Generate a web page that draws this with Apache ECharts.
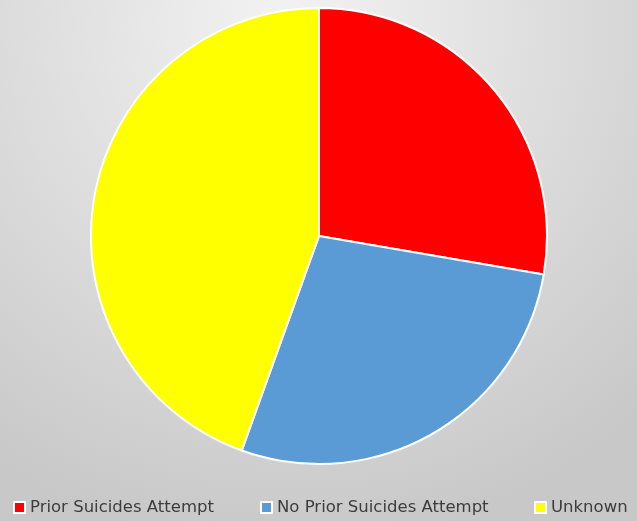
<!DOCTYPE html>
<html>
<head>
<meta charset="utf-8">
<script src="https://cdn.jsdelivr.net/npm/echarts@6/dist/echarts.min.js"></script>
<style>
  html, body { margin: 0; padding: 0; }
  #main { width: 637px; height: 521px; }
</style>
</head>
<body>
<div id="main"></div>
<script>
    var categories = ['Prior Suicides Attempt', 'No Prior Suicides Attempt', 'Unknown'];
    var values = [27.7, 27.8, 44.5];
    var colors = ['#ff0000', '#5b9bd5', '#ffff00'];

    var myChart = echarts.init(document.getElementById('main'));

    var servicedata = [];
    for (var i = 0; i < categories.length; i++) {
        servicedata.push({ name: categories[i], value: values[i], itemStyle: { color: colors[i] } });
    }

    // one legend per item so each sits where the original puts it
    var legendLeft = [13, 260, 534];
    var legends = [];
    for (var j = 0; j < categories.length; j++) {
        legends.push({
            left: legendLeft[j],
            top: 499,
            padding: 0,
            itemWidth: 11,
            itemHeight: 11,
            itemGap: 0,
            icon: 'rect',
            itemStyle: { borderColor: '#ffffff', borderWidth: 2 },
            textStyle: { fontFamily: 'DejaVu Sans', fontSize: 16.5, color: '#3c3c3c' },
            data: [categories[j]]
        });
    }

    myChart.setOption({
        animation: false,
        backgroundColor: {
            type: 'radial', x: 0.45, y: 0.05, r: 1,
            colorStops: [
                { offset: 0, color: '#f3f3f3' },
                { offset: 1, color: '#c8c8c8' }
            ]
        },
        legend: legends,
        series: [
            {
                type: 'pie',
                radius: 228,
                center: [319, 236],
                startAngle: 90,
                clockwise: true,
                label: { show: false },
                labelLine: { show: false },
                itemStyle: { borderColor: '#ffffff', borderWidth: 2 },
                data: servicedata
            }
        ]
    });
</script>
</body>
</html>
